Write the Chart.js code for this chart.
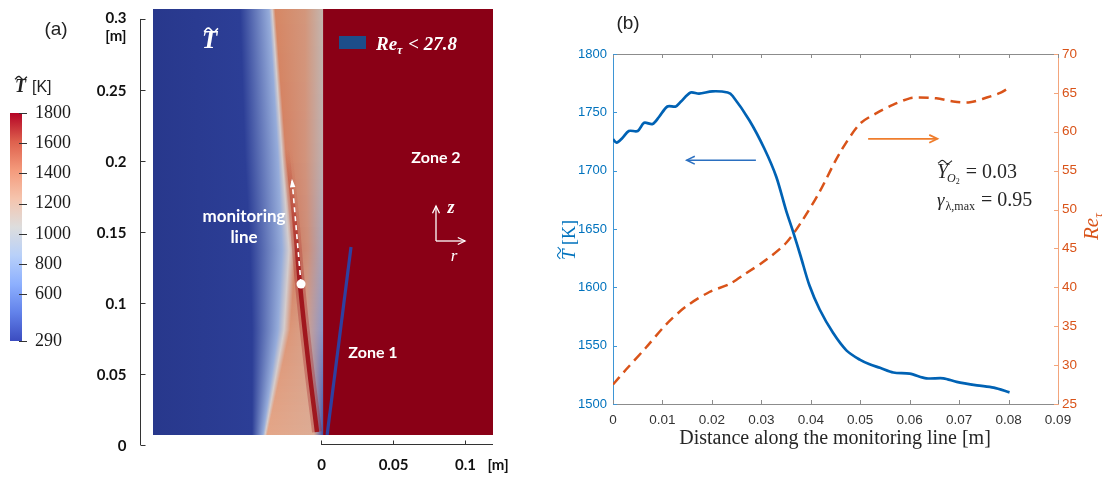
<!DOCTYPE html>
<html>
<head>
<meta charset="utf-8">
<title>Temperature field and monitoring line</title>
<script src="https://cdn.jsdelivr.net/npm/chart.js@4.4.1/dist/chart.umd.min.js"></script>
<style>
  body { margin: 0; background: #fff; }
  #page { position: relative; width: 1106px; height: 477px; overflow: hidden; }
  canvas { position: absolute; top: 0; }
</style>
</head>
<body>
<div id="page">
  <canvas id="cbar" width="90" height="477" style="left:0"></canvas>
  <canvas id="field" width="440" height="477" style="left:80px"></canvas>
  <canvas id="lines" width="586" height="477" style="left:520px"></canvas>
</div>
<script>
// ---------- panel (a): colour bar ----------
var cbarTicks = [290, 600, 800, 1000, 1200, 1400, 1600, 1800];

// ---------- panel (a): field (r, z in m) ----------
var zTicks = [0, 0.05, 0.1, 0.15, 0.2, 0.25, 0.3];
var rTicks = [0, 0.05, 0.1];
var fieldZ    = [0.307, 0.204, 0.137, 0.081, 0.007];
var coldCoreR = [-0.0563, -0.0528, -0.0493, -0.0479, -0.0479];
var mixEdgeR  = [-0.0340, -0.0271, -0.0222, -0.0257, -0.0389];
var mixWidthR = [0.0021, 0.0028, 0.0049, 0.0042, 0.0014];
var warmEndR  = [-0.0111, -0.0111, -0.0090, -0.0111, -0.0049];
var flameR = [-0.0236, -0.0188, -0.0146, -0.0090, -0.0028];
var flameZ = [0.2077, 0.1620, 0.1127, 0.0599, 0.0092];
var zone1R = [0.0042, 0.0208];
var zone1Z = [0.007, 0.1394];
var monitorR = [-0.0139, -0.0201];
var monitorZ = [0.1134, 0.186];
var interfaceR = 0.0014;

// ---------- panel (b): along the monitoring line ----------
var xTicks = [0, 0.01, 0.02, 0.03, 0.04, 0.05, 0.06, 0.07, 0.08, 0.09];
var tTicks = [1500, 1550, 1600, 1650, 1700, 1750, 1800];
var reTicks = [25, 30, 35, 40, 45, 50, 55, 60, 65, 70];
var distT = [0, 0.0007, 0.0019, 0.0032, 0.005, 0.0063, 0.008, 0.0093, 0.011, 0.0127, 0.0137, 0.0157,
  0.0174, 0.0201, 0.0232, 0.0242, 0.0276, 0.0306, 0.033, 0.035, 0.0364, 0.038, 0.0397, 0.0418, 0.0445,
  0.0472, 0.0499, 0.0519, 0.054, 0.0567, 0.06, 0.0634, 0.0668, 0.0695, 0.0736, 0.077, 0.0802];
var tempT = [1727, 1724, 1728, 1734, 1734, 1741, 1740, 1746, 1755, 1755, 1759, 1767,
  1766, 1768, 1767, 1764, 1743, 1719, 1695, 1666, 1648, 1626, 1602, 1581, 1561,
  1546, 1538, 1534, 1531, 1527, 1526, 1522, 1522, 1519, 1516, 1514, 1510];
var distRe = [0, 0.0026, 0.0066, 0.0107, 0.0147, 0.0195, 0.0235, 0.0269, 0.0309, 0.035, 0.0384, 0.0418,
  0.0458, 0.0499, 0.0533, 0.0567, 0.06, 0.062, 0.0654, 0.0688, 0.0722, 0.0756, 0.0783, 0.0802];
var reTau = [27.5, 29.4, 32.2, 35.2, 37.5, 39.4, 40.4, 41.8, 43.5, 45.7, 48.7, 52.3,
  57.2, 61.0, 62.4, 63.5, 64.3, 64.4, 64.3, 63.9, 63.8, 64.4, 65.0, 65.7];
var arrowTx = [0.0289, 0.0149], arrowTy = 1709;
var arrowRex = [0.0516, 0.0656], arrowRey = 59.1;

// ---------- colours ----------
var coolWarm = [[0, '#3b4cc0'], [0.125, '#6282ea'], [0.25, '#8db0fe'], [0.375, '#b8d0f9'], [0.5, '#dddddd'],
  [0.625, '#f5c4ad'], [0.75, '#f49a7b'], [0.875, '#de604d'], [1, '#b40426']];
var warmCol = [[214, 135, 100], [212, 130, 100], [206, 124, 98], [220, 150, 120], [228, 166, 136]];
var axisCol = [[196, 182, 175], [190, 176, 176], [168, 166, 188], [140, 150, 200], [62, 82, 170]];
var SERIF = '"Liberation Serif", serif';
var SANS = '"Liberation Sans", Arial, sans-serif';
var LATO = 'Lato, "Open Sans", sans-serif';

function pts(xa, ya) { return xa.map(function (v, i) { return { x: v, y: ya[i] }; }); }
function mix(a, b, f) { return [0, 1, 2].map(function (i) { return Math.round(a[i] + (b[i] - a[i]) * f); }); }
function rgb(c) { return 'rgb(' + c.join(',') + ')'; }
function plain(v) { return String(v); }
function seg(ctx, x1, y1, x2, y2) { ctx.beginPath(); ctx.moveTo(x1, y1); ctx.lineTo(x2, y2); ctx.stroke(); }
function put(ctx, s, x, y, font, color, align, base) {
  ctx.font = font; ctx.fillStyle = color;
  ctx.textAlign = align || 'left'; ctx.textBaseline = base || 'alphabetic';
  ctx.fillText(s, x, y);
  return x + ctx.measureText(s).width;
}
function tilde(ctx, x0, y0, w, h, color, lw) {
  ctx.save(); ctx.strokeStyle = color; ctx.lineWidth = lw || 1.2; ctx.beginPath();
  for (var i = 0; i <= 20; i++) {
    var t = i / 20, u = -0.15 + 1.3 * t;
    var x = x0 + t * w, y = y0 - h * Math.sin(2 * Math.PI * u);
    if (i === 0) ctx.moveTo(x, y); else ctx.lineTo(x, y);
  }
  ctx.stroke(); ctx.restore();
}
function arrow(ctx, x1, y1, x2, y2, color, lw, head) {
  ctx.save(); ctx.strokeStyle = color; ctx.lineWidth = lw;
  seg(ctx, x1, y1, x2, y2);
  var ang = Math.atan2(y2 - y1, x2 - x1), s = head || 8;
  ctx.beginPath();
  ctx.moveTo(x2 - s * Math.cos(ang - 0.45), y2 - s * Math.sin(ang - 0.45));
  ctx.lineTo(x2, y2);
  ctx.lineTo(x2 - s * Math.cos(ang + 0.45), y2 - s * Math.sin(ang + 0.45));
  ctx.stroke(); ctx.restore();
}

// ================= colour bar =================
var cbarPlugin = {
  id: 'cbarDecor',
  afterDraw: function (chart) {
    var ctx = chart.ctx, a = chart.chartArea, ys = chart.scales.y;
    ctx.save();
    ctx.strokeStyle = '#333'; ctx.lineWidth = 1;
    cbarTicks.forEach(function (v) {
      var y = Math.round(ys.getPixelForValue(v)) + 0.5;
      seg(ctx, a.right - 3, y, a.right + 5, y);
    });
    put(ctx, '(a)', 56, 35, '19px ' + SANS, '#222', 'center');
    put(ctx, 'T', 15, 92, 'bold italic 18px ' + SERIF, '#222');
    tilde(ctx, 15, 78, 12, 1.6, '#222', 1.3);
    put(ctx, '[K]', 32, 92, '16px ' + SANS, '#222');
    ctx.restore();
  }
};

new Chart(document.getElementById('cbar'), {
  type: 'bar',
  data: {
    labels: [''],
    datasets: [{
      data: [[cbarTicks[0], cbarTicks[cbarTicks.length - 1]]],
      backgroundColor: function (c) {
        var ch = c.chart, a = ch.chartArea;
        if (!a) return '#ccc';
        var g = ch.ctx.createLinearGradient(0, a.bottom, 0, a.top);
        coolWarm.forEach(function (s) { g.addColorStop(s[0], s[1]); });
        return g;
      },
      borderWidth: 0, barPercentage: 1, categoryPercentage: 1
    }]
  },
  options: {
    responsive: false, animation: false,
    layout: { padding: { left: 10, top: 113, bottom: 136 } },
    plugins: { legend: { display: false }, tooltip: { enabled: false } },
    scales: {
      x: { display: false },
      y: {
        position: 'right', min: 290, max: 1800,
        afterBuildTicks: function (s) { s.ticks = cbarTicks.map(function (v) { return { value: v }; }); },
        afterFit: function (s) { s.width = 68; },
        grid: { display: false, drawTicks: false }, border: { display: false },
        ticks: { padding: 13, color: '#1a1a1a', font: { family: SERIF, size: 18 }, callback: plain }
      }
    }
  },
  plugins: [cbarPlugin]
});

// ================= field =================
function flameStroke(alpha) {
  return function (c) {
    var ch = c.chart;
    if (!ch.chartArea) return 'rgba(0,0,0,0)';
    var ys = ch.scales.y;
    var g = ch.ctx.createLinearGradient(0, ys.getPixelForValue(0.21), 0, ys.getPixelForValue(0.115));
    g.addColorStop(0, 'rgba(185,60,45,0)');
    g.addColorStop(1, 'rgba(158,18,26,' + alpha + ')');
    return g;
  };
}

var fieldPlugin = {
  id: 'fieldDecor',
  beforeDatasetsDraw: function (chart) {
    var ctx = chart.ctx, a = chart.chartArea, xs = chart.scales.x, ys = chart.scales.y;
    var xi = xs.getPixelForValue(interfaceR), span = xi - a.left;
    var pos = function (r) { return Math.max(0, Math.min(1, (xs.getPixelForValue(r) - a.left) / span)); };
    ctx.save();
    for (var py = Math.floor(a.top); py < Math.ceil(a.bottom); py++) {
      var z = ys.getValueForPixel(py + 0.5), k = 0;
      while (k < fieldZ.length - 2 && z < fieldZ[k + 1]) k++;
      var f = Math.max(0, Math.min(1, (fieldZ[k] - z) / (fieldZ[k] - fieldZ[k + 1])));
      var L = function (arr) { return arr[k] + (arr[k + 1] - arr[k]) * f; };
      var e = L(mixEdgeR), w = L(mixWidthR);
      var warm = mix(warmCol[k], warmCol[k + 1], f);
      var g = ctx.createLinearGradient(a.left, 0, xi, 0);
      g.addColorStop(0, 'rgb(40,56,140)');
      g.addColorStop(pos(L(coldCoreR)), 'rgb(44,62,150)');
      g.addColorStop(pos(e - w), 'rgb(150,172,218)');
      g.addColorStop(pos(e), 'rgb(212,204,204)');
      g.addColorStop(pos(e + w), rgb(warm));
      g.addColorStop(pos(L(warmEndR)), rgb(mix(warm, [205, 185, 178], 0.3)));
      g.addColorStop(1, rgb(mix(axisCol[k], axisCol[k + 1], f)));
      ctx.fillStyle = g;
      ctx.fillRect(a.left, py, span, 1);
    }
    ctx.fillStyle = '#8a0016';
    ctx.fillRect(xi, a.top, a.right - xi, a.bottom - a.top);
    ctx.restore();
  },
  afterDatasetsDraw: function (chart) {
    var ctx = chart.ctx, xs = chart.scales.x, ys = chart.scales.y;
    ctx.save();
    // monitoring line arrow head
    var x1 = xs.getPixelForValue(monitorR[0]), y1 = ys.getPixelForValue(monitorZ[0]);
    var x2 = xs.getPixelForValue(monitorR[1]), y2 = ys.getPixelForValue(monitorZ[1]);
    var ang = Math.atan2(y2 - y1, x2 - x1);
    ctx.fillStyle = '#fff'; ctx.beginPath();
    ctx.moveTo(x2 + 2 * Math.cos(ang), y2 + 2 * Math.sin(ang));
    ctx.lineTo(x2 - 7 * Math.cos(ang - 0.4), y2 - 7 * Math.sin(ang - 0.4));
    ctx.lineTo(x2 - 7 * Math.cos(ang + 0.4), y2 - 7 * Math.sin(ang + 0.4));
    ctx.closePath(); ctx.fill();
    // labels
    put(ctx, 'T', 122, 48, 'bold italic 25px ' + SERIF, '#fff');
    tilde(ctx, 124, 30, 14, 2, '#fff', 1.6);
    put(ctx, 'monitoring', 164, 222, 'bold 17px ' + LATO, '#fff', 'center');
    put(ctx, 'line', 164, 243, 'bold 17px ' + LATO, '#fff', 'center');
    put(ctx, 'Zone 2', 356, 163, 'bold 16px ' + LATO, '#fff', 'center');
    put(ctx, 'Zone 1', 293, 358, 'bold 16px ' + LATO, '#fff', 'center');
    ctx.fillStyle = '#1d4d8a'; ctx.fillRect(259, 36, 27, 13);
    var x = put(ctx, 'Re', 296, 50, 'bold italic 19px ' + SERIF, '#fff');
    x = put(ctx, '\u03c4', x, 54, 'bold italic 12px ' + SERIF, '#fff');
    put(ctx, ' < 27.8', x + 1, 50, 'bold italic 19px ' + SERIF, '#fff');
    arrow(ctx, 356, 241, 356, 206, '#fff', 1.3, 8);
    arrow(ctx, 356, 241, 385, 241, '#fff', 1.3, 8);
    put(ctx, 'z', 371, 213, 'bold italic 18px ' + SERIF, '#fff', 'center');
    put(ctx, 'r', 374, 261, 'italic 17px ' + SERIF, '#fff', 'center');
    ctx.restore();
  },
  afterDraw: function (chart) {
    var ctx = chart.ctx, a = chart.chartArea, xs = chart.scales.x, ys = chart.scales.y;
    ctx.save();
    ctx.strokeStyle = '#333'; ctx.lineWidth = 1;
    var ax = Math.round(a.left - 13) + 0.5;
    var y0 = ys.getPixelForValue(0);
    seg(ctx, ax, y0, ax, ys.getPixelForValue(0.3));
    zTicks.forEach(function (v) {
      var y = Math.round(ys.getPixelForValue(v)) + 0.5;
      seg(ctx, ax, y, ax + 5, y);
      put(ctx, String(v), ax - 14, y + (v === 0.3 ? -1 : 1), 'bold 15px ' + LATO, '#111', 'right', 'middle');
    });
    put(ctx, '[m]', ax - 14, ys.getPixelForValue(0.3) + 17, 'bold 15px ' + LATO, '#111', 'right', 'middle');
    var yb = Math.round(y0) - 0.5;
    seg(ctx, xs.getPixelForValue(0), yb, a.right, yb);
    rTicks.forEach(function (v) {
      var x = Math.round(xs.getPixelForValue(v)) + 0.5;
      seg(ctx, x, yb, x, yb - 4);
      put(ctx, String(v), x, yb + 21, 'bold 15px ' + LATO, '#111', 'center', 'middle');
    });
    put(ctx, '[m]', a.right + 5, yb + 21, 'bold 15px ' + LATO, '#111', 'center', 'middle');
    ctx.restore();
  }
};

new Chart(document.getElementById('field'), {
  type: 'line',
  data: {
    datasets: [
      { data: [{ x: monitorR[0], y: monitorZ[0] }], showLine: false, pointRadius: 4.5,
        pointBackgroundColor: '#fff', pointBorderWidth: 0 },
      { data: pts(monitorR, monitorZ), borderColor: '#fff', borderWidth: 1.6, borderDash: [5, 4], pointRadius: 0 },
      { data: pts(zone1R, zone1Z), borderColor: '#2f40a0', borderWidth: 3.2, pointRadius: 0 },
      { data: pts(flameR, flameZ), borderColor: flameStroke(0.95), borderWidth: 4.5, pointRadius: 0, tension: 0.4 },
      { data: pts(flameR, flameZ), borderColor: flameStroke(0.3), borderWidth: 10, pointRadius: 0, tension: 0.4 }
    ]
  },
  options: {
    responsive: false, animation: false,
    layout: { padding: { left: 73, right: 27, top: 9, bottom: 42 } },
    plugins: { legend: { display: false }, tooltip: { enabled: false } },
    scales: {
      x: { type: 'linear', display: false, min: -0.1167, max: 0.1194 },
      y: { type: 'linear', display: false, min: 0.00704, max: 0.307 }
    }
  },
  plugins: [fieldPlugin]
});

// ================= line chart (b) =================
var linesPlugin = {
  id: 'linesDecor',
  afterDraw: function (chart) {
    var ctx = chart.ctx, a = chart.chartArea, xs = chart.scales.x, yT = chart.scales.yT, yR = chart.scales.yRe;
    ctx.save();
    ctx.lineWidth = 1;
    ctx.strokeStyle = '#8c8c8c';
    seg(ctx, a.left, Math.round(a.top) + 0.5, a.right, Math.round(a.top) + 0.5);
    xTicks.forEach(function (v) {
      var x = Math.round(xs.getPixelForValue(v)) + 0.5;
      seg(ctx, x, a.bottom, x, a.bottom - 4);
      seg(ctx, x, a.top, x, a.top + 4);
    });
    ctx.strokeStyle = '#3d95d5';
    tTicks.forEach(function (v) {
      var y = Math.round(yT.getPixelForValue(v)) + 0.5;
      seg(ctx, a.left, y, a.left + 4, y);
    });
    ctx.strokeStyle = '#f3a57c';
    reTicks.forEach(function (v) {
      var y = Math.round(yR.getPixelForValue(v)) + 0.5;
      seg(ctx, a.right, y, a.right - 4, y);
    });
    arrow(ctx, xs.getPixelForValue(arrowTx[0]), yT.getPixelForValue(arrowTy),
      xs.getPixelForValue(arrowTx[1]), yT.getPixelForValue(arrowTy), '#2a6fc0', 1.5, 9);
    arrow(ctx, xs.getPixelForValue(arrowRex[0]), yR.getPixelForValue(arrowRey),
      xs.getPixelForValue(arrowRex[1]), yR.getPixelForValue(arrowRey), '#ef7d2c', 1.8, 9);

    put(ctx, '(b)', 108, 29, '19px ' + SANS, '#222', 'center');
    // annotations
    var x = put(ctx, 'Y', 417, 178, 'italic 20px ' + SERIF, '#262626');
    tilde(ctx, 418, 162, 14, 1.6, '#262626', 1.1);
    x = put(ctx, 'O', x - 1, 182, 'italic 12px ' + SERIF, '#262626');
    x = put(ctx, '2', x, 184, '8px ' + SERIF, '#262626');
    put(ctx, ' = 0.03', x + 1, 178, '20px ' + SERIF, '#262626');
    x = put(ctx, '\u03b3', 417, 206, 'italic 19px ' + SERIF, '#262626');
    x = put(ctx, '\u03bb,max', x + 1, 210, '12px ' + SERIF, '#262626');
    put(ctx, ' = 0.95', x + 1, 206, '20px ' + SERIF, '#262626');
    // axis titles
    put(ctx, 'Distance along the monitoring line [m]', 315, 444, '20px ' + SERIF, '#262626', 'center');
    ctx.save();
    ctx.translate(55, 240); ctx.rotate(-Math.PI / 2);
    ctx.font = 'italic 19px ' + SERIF;
    var wT = ctx.measureText('T').width;
    ctx.font = '18px ' + SERIF;
    var wK = ctx.measureText(' [K]').width;
    var sx = -(wT + wK) / 2;
    put(ctx, 'T', sx, 0, 'italic 19px ' + SERIF, '#0072bd');
    tilde(ctx, sx + 1, -16, 12, 1.5, '#0072bd', 1.1);
    put(ctx, ' [K]', sx + wT, 0, '18px ' + SERIF, '#0072bd');
    ctx.restore();
    ctx.save();
    ctx.translate(578, 224); ctx.rotate(-Math.PI / 2);
    var rx = put(ctx, 'Re', -16, 0, 'italic 21px ' + SERIF, '#d95319');
    put(ctx, '\u03c4', rx, 4, 'italic 13px ' + SERIF, '#d95319');
    ctx.restore();
    ctx.restore();
  }
};

function fixTicks(list) {
  return function (s) { s.ticks = list.map(function (v) { return { value: v }; }); };
}

new Chart(document.getElementById('lines'), {
  type: 'line',
  data: {
    datasets: [
      { label: 'T', data: pts(distT, tempT), yAxisID: 'yT', borderColor: '#0062b4', borderWidth: 2.7,
        pointRadius: 0, tension: 0.3, fill: false },
      { label: 'Re', data: pts(distRe, reTau), yAxisID: 'yRe', borderColor: '#d95319', borderWidth: 2.5,
        borderDash: [10, 6], pointRadius: 0, tension: 0.3, fill: false }
    ]
  },
  options: {
    responsive: false, animation: false,
    layout: { padding: { left: 33, right: 8, top: 54, bottom: 33 } },
    plugins: { legend: { display: false }, tooltip: { enabled: false } },
    scales: {
      x: {
        type: 'linear', min: 0, max: 0.09,
        afterBuildTicks: fixTicks(xTicks),
        afterFit: function (s) { s.height = 40; },
        grid: { display: false, drawTicks: false }, border: { display: true, color: '#8c8c8c', width: 1 },
        ticks: { padding: 8, color: '#333', font: { family: SANS, size: 13.5 }, maxRotation: 0, autoSkip: false,
          callback: function (v) { return String(Math.round(v * 100) / 100); } }
      },
      yT: {
        position: 'left', min: 1500, max: 1800,
        afterBuildTicks: fixTicks(tTicks),
        afterFit: function (s) { s.width = 60; },
        grid: { display: false, drawTicks: false }, border: { display: true, color: '#3d95d5', width: 1 },
        ticks: { padding: 6, color: '#0072bd', font: { family: SANS, size: 13 }, callback: plain }
      },
      yRe: {
        position: 'right', min: 25, max: 70,
        afterBuildTicks: fixTicks(reTicks),
        afterFit: function (s) { s.width = 40; },
        grid: { display: false, drawTicks: false }, border: { display: true, color: '#f3a57c', width: 1 },
        ticks: { padding: 4, color: '#d95319', font: { family: SANS, size: 13.5 }, callback: plain }
      }
    }
  },
  plugins: [linesPlugin]
});
</script>
</body>
</html>
